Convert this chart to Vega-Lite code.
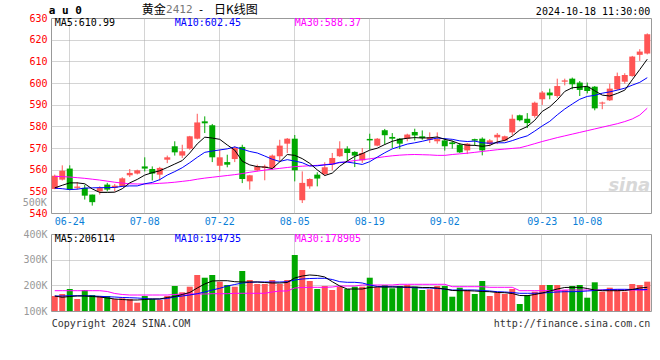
{
  "$schema": "https://vega.github.io/schema/vega-lite/v6.json",
  "background": "white",
  "padding": {"left": 22, "top": 3, "right": 5, "bottom": 5},
  "config": {
    "view": {"stroke": "#999999", "strokeWidth": 1},
    "font": "DejaVu Sans Mono",
    "axis": {"labelFont": "DejaVu Sans Mono", "labelFontSize": 10, "ticks": false, "domain": false, "title": null, "gridColor": "#a8a8a8", "gridDash": [1, 1], "gridWidth": 1, "labelOverlap": false, "labelBound": false}
  },
  "datasets": {
    "k": [
      {"d":"06-20","o":551.1,"h":557.7,"l":551.0,"c":557.2,"v":158400,"m5":551.6,"m10":551.5,"m30":556.9,"vm5":158400,"vm10":158400,"vm30":179100},
      {"d":"06-21","o":555.4,"h":562.0,"l":555.0,"c":559.5,"v":166200,"m5":552.8,"m10":551.2,"m30":556.8,"vm5":153400,"vm10":158400,"vm30":179100},
      {"d":"06-24","o":560.5,"h":562.0,"l":550.5,"c":550.8,"v":185700,"m5":553.9,"m10":550.8,"m30":556.6,"vm5":156500,"vm10":159600,"vm30":179100},
      {"d":"06-25","o":551.6,"h":554.3,"l":550.8,"c":552.2,"v":146800,"m5":553.9,"m10":551.0,"m30":556.3,"vm5":158400,"vm10":159600,"vm30":179100},
      {"d":"06-26","o":551.6,"h":553.0,"l":546.2,"c":548.0,"v":181800,"m5":553.5,"m10":551.5,"m30":556.0,"vm5":158400,"vm10":159600,"vm30":179100},
      {"d":"06-27","o":548.5,"h":548.5,"l":543.4,"c":545.0,"v":162300,"m5":551.1,"m10":551.6,"m30":555.6,"vm5":156500,"vm10":158400,"vm30":179100},
      {"d":"06-28","o":550.0,"h":552.3,"l":548.5,"c":551.5,"v":158400,"m5":549.5,"m10":551.7,"m30":555.2,"vm5":154500,"vm10":157300,"vm30":179100},
      {"d":"07-01","o":553.1,"h":553.9,"l":550.0,"c":550.8,"v":158400,"m5":549.5,"m10":551.7,"m30":554.7,"vm5":150600,"vm10":155700,"vm30":176000},
      {"d":"07-02","o":551.6,"h":553.4,"l":550.0,"c":552.6,"v":146800,"m5":549.6,"m10":551.8,"m30":554.2,"vm5":146800,"vm10":154500,"vm30":168200},
      {"d":"07-03","o":552.3,"h":556.5,"l":552.0,"c":556.0,"v":149500,"m5":551.2,"m10":552.3,"m30":553.8,"vm5":144800,"vm10":152600,"vm30":164300},
      {"d":"07-04","o":557.4,"h":560.3,"l":556.6,"c":558.5,"v":146800,"m5":553.9,"m10":552.5,"m30":553.5,"vm5":142900,"vm10":151800,"vm30":162300},
      {"d":"07-05","o":558.2,"h":560.0,"l":557.8,"c":559.7,"v":132300,"m5":555.5,"m10":552.5,"m30":553.4,"vm5":142900,"vm10":150600,"vm30":162300},
      {"d":"07-08","o":561.5,"h":565.7,"l":559.2,"c":560.5,"v":158400,"m5":557.5,"m10":553.5,"m30":553.4,"vm5":144800,"vm10":148700,"vm30":162300},
      {"d":"07-09","o":560.3,"h":561.5,"l":555.0,"c":558.2,"v":146800,"m5":558.6,"m10":554.1,"m30":553.5,"vm5":146800,"vm10":146800,"vm30":162300},
      {"d":"07-10","o":557.7,"h":561.3,"l":555.0,"c":560.8,"v":142900,"m5":559.5,"m10":555.4,"m30":553.7,"vm5":146800,"vm10":146800,"vm30":162300},
      {"d":"07-11","o":564.6,"h":566.5,"l":563.0,"c":565.7,"v":158400,"m5":561.0,"m10":557.5,"m30":553.9,"vm5":152600,"vm10":148700,"vm30":162300},
      {"d":"07-12","o":570.8,"h":573.1,"l":566.5,"c":568.0,"v":197400,"m5":562.6,"m10":559.1,"m30":554.2,"vm5":156500,"vm10":154500,"vm30":164300},
      {"d":"07-15","o":566.5,"h":571.5,"l":565.4,"c":568.5,"v":172900,"m5":564.2,"m10":560.9,"m30":554.6,"vm5":164300,"vm10":158400,"vm30":166200},
      {"d":"07-16","o":569.7,"h":575.6,"l":569.2,"c":575.4,"v":194700,"m5":567.7,"m10":563.2,"m30":555.0,"vm5":172100,"vm10":162300,"vm30":166200},
      {"d":"07-17","o":574.3,"h":585.8,"l":574.0,"c":581.8,"v":240300,"m5":571.9,"m10":565.7,"m30":555.6,"vm5":189600,"vm10":167400,"vm30":166200},
      {"d":"07-18","o":582.3,"h":584.6,"l":576.9,"c":581.4,"v":229700,"m5":575.0,"m10":568.0,"m30":556.1,"vm5":205200,"vm10":174000,"vm30":166200},
      {"d":"07-19","o":580.5,"h":581.1,"l":563.5,"c":565.7,"v":240300,"m5":574.6,"m10":568.6,"m30":556.5,"vm5":216900,"vm10":181800,"vm30":167400},
      {"d":"07-22","o":561.8,"h":569.2,"l":559.2,"c":565.7,"v":214200,"m5":574.0,"m10":569.1,"m30":556.9,"vm5":218000,"vm10":188400,"vm30":167400},
      {"d":"07-23","o":563.5,"h":566.9,"l":561.1,"c":562.3,"v":201300,"m5":571.4,"m10":569.6,"m30":557.3,"vm5":218000,"vm10":197400,"vm30":167400},
      {"d":"07-24","o":564.9,"h":570.8,"l":563.5,"c":570.0,"v":194700,"m5":569.0,"m10":570.5,"m30":557.7,"vm5":214200,"vm10":203200,"vm30":169000},
      {"d":"07-25","o":570.5,"h":571.5,"l":553.8,"c":555.7,"v":255800,"m5":563.9,"m10":569.5,"m30":558.2,"vm5":213000,"vm10":209100,"vm30":169000},
      {"d":"07-26","o":554.6,"h":557.6,"l":550.8,"c":557.4,"v":220800,"m5":562.2,"m10":568.4,"m30":558.8,"vm5":213000,"vm10":211800,"vm30":169000},
      {"d":"07-29","o":559.7,"h":562.3,"l":559.2,"c":561.5,"v":205200,"m5":561.4,"m10":567.7,"m30":559.3,"vm5":213000,"vm10":213000,"vm30":169000},
      {"d":"07-30","o":560.8,"h":562.3,"l":555.1,"c":561.5,"v":205200,"m5":561.2,"m10":566.3,"m30":559.8,"vm5":211000,"vm10":213000,"vm30":169000},
      {"d":"07-31","o":560.8,"h":567.0,"l":560.0,"c":566.5,"v":220800,"m5":560.5,"m10":564.8,"m30":560.2,"vm5":209100,"vm10":213000,"vm30":174000},
      {"d":"08-01","o":566.2,"h":573.8,"l":563.8,"c":571.1,"v":205200,"m5":563.6,"m10":563.8,"m30":560.6,"vm5":209100,"vm10":213000,"vm30":177900},
      {"d":"08-02","o":572.0,"h":574.6,"l":567.7,"c":574.3,"v":220800,"m5":567.0,"m10":564.6,"m30":561.0,"vm5":211000,"vm10":214200,"vm30":177900},
      {"d":"08-05","o":574.3,"h":576.0,"l":554.6,"c":559.7,"v":318200,"m5":566.6,"m10":564.0,"m30":561.4,"vm5":228600,"vm10":220800,"vm30":189600},
      {"d":"08-06","o":545.9,"h":559.2,"l":544.6,"c":553.9,"v":259700,"m5":565.1,"m10":563.2,"m30":561.6,"vm5":236400,"vm10":224700,"vm30":191600},
      {"d":"08-07","o":552.3,"h":556.0,"l":551.2,"c":555.7,"v":216900,"m5":562.9,"m10":561.7,"m30":561.8,"vm5":240300,"vm10":226600,"vm30":192300},
      {"d":"08-08","o":557.7,"h":558.8,"l":552.3,"c":555.9,"v":185700,"m5":559.9,"m10":561.8,"m30":562.0,"vm5":238300,"vm10":227400,"vm30":192300},
      {"d":"08-09","o":558.0,"h":563.4,"l":557.2,"c":561.1,"v":197400,"m5":557.3,"m10":562.2,"m30":562.3,"vm5":232500,"vm10":227400,"vm30":192300},
      {"d":"08-12","o":562.3,"h":567.7,"l":559.7,"c":565.4,"v":181800,"m5":558.4,"m10":562.5,"m30":562.7,"vm5":214200,"vm10":222700,"vm30":193500},
      {"d":"08-13","o":566.2,"h":573.1,"l":565.9,"c":569.7,"v":194700,"m5":561.6,"m10":563.4,"m30":563.2,"vm5":197400,"vm10":214200,"vm30":197400},
      {"d":"08-14","o":569.7,"h":570.8,"l":563.9,"c":567.7,"v":185700,"m5":564.0,"m10":563.5,"m30":563.7,"vm5":185700,"vm10":211800,"vm30":197400},
      {"d":"08-15","o":568.2,"h":568.5,"l":561.2,"c":566.5,"v":194700,"m5":566.1,"m10":563.0,"m30":564.2,"vm5":185700,"vm10":211800,"vm30":197400},
      {"d":"08-16","o":564.3,"h":570.0,"l":563.1,"c":567.7,"v":194700,"m5":567.4,"m10":562.4,"m30":564.6,"vm5":185700,"vm10":209100,"vm30":201300},
      {"d":"08-19","o":574.2,"h":576.6,"l":569.2,"c":573.5,"v":229700,"m5":569.0,"m10":563.7,"m30":565.0,"vm5":191600,"vm10":201300,"vm30":201300},
      {"d":"08-20","o":571.1,"h":574.6,"l":570.8,"c":574.3,"v":192300,"m5":569.9,"m10":565.8,"m30":565.5,"vm5":193500,"vm10":195500,"vm30":201300},
      {"d":"08-21","o":578.2,"h":578.8,"l":571.6,"c":575.9,"v":201300,"m5":571.6,"m10":567.8,"m30":566.0,"vm5":193500,"vm10":194700,"vm30":201300},
      {"d":"08-22","o":575.1,"h":576.9,"l":570.0,"c":574.3,"v":188400,"m5":573.1,"m10":569.6,"m30":566.4,"vm5":193500,"vm10":194700,"vm30":201300},
      {"d":"08-23","o":574.3,"h":574.6,"l":569.5,"c":572.0,"v":197400,"m5":574.0,"m10":570.7,"m30":566.7,"vm5":193500,"vm10":193500,"vm30":204000},
      {"d":"08-26","o":574.3,"h":576.6,"l":573.1,"c":576.2,"v":201300,"m5":574.5,"m10":571.8,"m30":566.9,"vm5":193500,"vm10":191600,"vm30":204000},
      {"d":"08-27","o":577.4,"h":578.9,"l":573.5,"c":575.8,"v":194700,"m5":574.8,"m10":572.4,"m30":567.0,"vm5":193500,"vm10":190800,"vm30":204000},
      {"d":"08-28","o":575.4,"h":578.1,"l":573.8,"c":574.6,"v":181800,"m5":574.6,"m10":573.1,"m30":566.9,"vm5":191600,"vm10":189600,"vm30":204000},
      {"d":"08-29","o":573.8,"h":577.2,"l":572.3,"c":574.9,"v":184500,"m5":574.7,"m10":573.9,"m30":566.8,"vm5":191600,"vm10":189600,"vm30":204000},
      {"d":"08-30","o":573.1,"h":577.2,"l":572.0,"c":574.1,"v":197400,"m5":575.1,"m10":574.6,"m30":566.6,"vm5":189600,"vm10":187700,"vm30":204000},
      {"d":"09-02","o":573.5,"h":574.6,"l":568.8,"c":570.8,"v":197400,"m5":574.0,"m10":574.3,"m30":566.6,"vm5":185700,"vm10":185700,"vm30":204000},
      {"d":"09-03","o":572.6,"h":573.4,"l":569.7,"c":571.8,"v":155700,"m5":573.2,"m10":574.0,"m30":567.0,"vm5":179900,"vm10":181800,"vm30":194700},
      {"d":"09-04","o":571.5,"h":572.3,"l":567.7,"c":568.0,"v":190800,"m5":571.9,"m10":573.3,"m30":567.3,"vm5":179100,"vm10":181800,"vm30":194700},
      {"d":"09-05","o":568.9,"h":572.3,"l":567.2,"c":572.0,"v":181800,"m5":571.3,"m10":573.0,"m30":567.6,"vm5":179100,"vm10":181800,"vm30":194700},
      {"d":"09-06","o":574.1,"h":574.3,"l":571.1,"c":573.4,"v":166200,"m5":571.2,"m10":573.2,"m30":568.0,"vm5":177900,"vm10":181800,"vm30":194700},
      {"d":"09-09","o":574.3,"h":574.9,"l":566.6,"c":568.9,"v":216900,"m5":570.8,"m10":572.4,"m30":568.4,"vm5":176000,"vm10":179900,"vm30":194700},
      {"d":"09-10","o":571.8,"h":574.1,"l":570.8,"c":573.5,"v":158400,"m5":571.2,"m10":572.2,"m30":568.8,"vm5":175200,"vm10":177900,"vm30":192300},
      {"d":"09-11","o":574.9,"h":576.9,"l":571.8,"c":576.1,"v":171300,"m5":572.8,"m10":572.4,"m30":569.2,"vm5":172100,"vm10":175200,"vm30":192300},
      {"d":"09-12","o":573.4,"h":575.7,"l":573.1,"c":575.4,"v":166200,"m5":573.5,"m10":572.4,"m30":569.5,"vm5":171300,"vm10":174000,"vm30":192300},
      {"d":"09-13","o":577.2,"h":585.4,"l":575.8,"c":583.5,"v":185700,"m5":575.5,"m10":573.4,"m30":569.8,"vm5":168200,"vm10":172100,"vm30":192300},
      {"d":"09-18","o":585.1,"h":585.4,"l":582.3,"c":582.8,"v":127300,"m5":578.3,"m10":574.6,"m30":570.1,"vm5":160400,"vm10":169000,"vm30":179100},
      {"d":"09-19","o":583.5,"h":586.1,"l":579.2,"c":581.5,"v":162300,"m5":579.9,"m10":575.6,"m30":571.0,"vm5":159600,"vm10":169000,"vm30":179100},
      {"d":"09-20","o":584.8,"h":591.4,"l":584.0,"c":590.9,"v":175200,"m5":582.8,"m10":577.8,"m30":572.0,"vm5":164300,"vm10":169000,"vm30":179100},
      {"d":"09-23","o":592.5,"h":596.3,"l":589.9,"c":595.6,"v":201300,"m5":586.9,"m10":580.2,"m30":573.0,"vm5":170100,"vm10":170100,"vm30":179100},
      {"d":"09-24","o":595.6,"h":597.4,"l":592.5,"c":594.3,"v":201300,"m5":589.0,"m10":582.3,"m30":573.9,"vm5":177900,"vm10":172100,"vm30":179100},
      {"d":"09-25","o":594.0,"h":602.0,"l":593.2,"c":598.6,"v":201300,"m5":592.2,"m10":585.3,"m30":574.8,"vm5":185700,"vm10":174000,"vm30":179100},
      {"d":"09-26","o":600.6,"h":602.0,"l":598.9,"c":601.2,"v":181800,"m5":596.1,"m10":588.0,"m30":575.6,"vm5":191600,"vm10":175200,"vm30":181800},
      {"d":"09-27","o":602.0,"h":602.5,"l":597.1,"c":599.4,"v":197400,"m5":597.8,"m10":590.3,"m30":576.4,"vm5":192300,"vm10":175200,"vm30":181800},
      {"d":"09-30","o":600.2,"h":600.9,"l":594.0,"c":596.8,"v":201300,"m5":598.1,"m10":592.5,"m30":577.2,"vm5":192300,"vm10":176000,"vm30":181800},
      {"d":"10-08","o":598.3,"h":600.2,"l":595.2,"c":596.3,"v":151800,"m5":598.5,"m10":593.8,"m30":578.0,"vm5":187700,"vm10":177900,"vm30":181800},
      {"d":"10-09","o":598.3,"h":598.6,"l":587.4,"c":588.3,"v":211800,"m5":596.4,"m10":594.3,"m30":578.8,"vm5":181800,"vm10":179900,"vm30":181800},
      {"d":"10-10","o":590.5,"h":591.4,"l":587.9,"c":591.0,"v":175200,"m5":594.4,"m10":595.3,"m30":579.6,"vm5":179100,"vm10":181800,"vm30":181800},
      {"d":"10-11","o":592.0,"h":599.7,"l":591.7,"c":597.4,"v":190800,"m5":594.0,"m10":595.9,"m30":580.4,"vm5":179100,"vm10":183800,"vm30":181800},
      {"d":"10-14","o":597.1,"h":604.8,"l":596.8,"c":603.2,"v":184500,"m5":595.2,"m10":596.7,"m30":581.2,"vm5":179100,"vm10":184500,"vm30":181800},
      {"d":"10-15","o":600.6,"h":604.5,"l":599.7,"c":603.7,"v":175200,"m5":596.7,"m10":597.6,"m30":582.2,"vm5":179900,"vm10":184500,"vm30":181800},
      {"d":"10-16","o":603.2,"h":612.5,"l":602.9,"c":612.2,"v":205200,"m5":601.5,"m10":599.0,"m30":583.4,"vm5":183800,"vm10":183800,"vm30":181800},
      {"d":"10-17","o":613.0,"h":615.6,"l":610.2,"c":614.5,"v":201300,"m5":606.2,"m10":600.3,"m30":585.2,"vm5":189600,"vm10":183000,"vm30":181800},
      {"d":"10-18","o":613.6,"h":622.9,"l":613.2,"c":622.5,"v":214200,"m5":610.99,"m10":602.45,"m30":588.37,"vm5":192300,"vm10":183800,"vm30":181800}
    ]
  },
  "spacing": 21,
  "bounds": "flush",
  "vconcat": [
    {
      "width": 600,
      "height": 195,
      "data": {"name": "k"},
      "layer": [
        {
          "mark": {"type": "rule", "strokeWidth": 1},
          "encoding": {
            "x": {"field": "d", "type": "ordinal", "scale": {"paddingInner": 0.2, "paddingOuter": 0.1},
              "axis": {"values": ["06-24","07-08","07-22","08-05","08-19","09-02","09-23","10-08"], "bandPosition": 0.43, "grid": true, "labelAngle": 0, "labelColor": "#0b7fd8", "labelPadding": 3, "labelOverlap": false}},
            "y": {"field": "l", "type": "quantitative", "scale": {"domain": [540, 630], "nice": false, "zero": false},
              "axis": {"values": [540,550,560,570,580,590,600,610,620,630], "tickCount": 20, "grid": true, "labelColor": "#ff0000", "labelPadding": 4, "labelOverlap": false, "labelFlush": false,
                "gridOpacity": {"condition": {"test": "datum.value == 540 || datum.value == 630", "value": 0}, "value": 1}}},
            "y2": {"field": "h"},
            "color": {"condition": {"test": "datum.c >= datum.o", "value": "#ff5555"}, "value": "#00a800"}
          }
        },
        {
          "mark": {"type": "bar"},
          "encoding": {
            "x": {"field": "d", "type": "ordinal"},
            "y": {"field": "o", "type": "quantitative"},
            "y2": {"field": "c"},
            "color": {"condition": {"test": "datum.c >= datum.o", "value": "#ff5555"}, "value": "#00a800"}
          }
        },
        {"mark": {"type": "line", "color": "#ff00ff", "strokeWidth": 1}, "encoding": {"x": {"field": "d", "type": "ordinal"}, "y": {"field": "m30", "type": "quantitative"}}},
        {"mark": {"type": "line", "color": "#0000ff", "strokeWidth": 1}, "encoding": {"x": {"field": "d", "type": "ordinal"}, "y": {"field": "m10", "type": "quantitative"}}},
        {"mark": {"type": "line", "color": "#000000", "strokeWidth": 1}, "encoding": {"x": {"field": "d", "type": "ordinal"}, "y": {"field": "m5", "type": "quantitative"}}},
        {"data": {"values": [{}]}, "mark": {"type": "text", "text": "MA5:610.99", "align": "left", "baseline": "middle", "fontSize": 10, "color": "#000000"},
          "encoding": {"x": {"datum": "06-20"}, "y": {"datum": 627.6}}},
        {"data": {"values": [{}]}, "mark": {"type": "text", "text": "MA10:602.45", "align": "left", "baseline": "middle", "fontSize": 10, "color": "#0000ff"},
          "encoding": {"x": {"datum": "07-12"}, "y": {"datum": 627.6}}},
        {"data": {"values": [{}]}, "mark": {"type": "text", "text": "MA30:588.37", "align": "left", "baseline": "middle", "fontSize": 10, "color": "#ff00ff"},
          "encoding": {"x": {"datum": "08-05"}, "y": {"datum": 627.6}}},
        {"data": {"values": [{}]}, "mark": {"type": "text", "text": "a u 0", "align": "left", "baseline": "middle", "fontSize": 11, "fontWeight": "bold", "color": "#000000", "dx": -3},
          "encoding": {"x": {"datum": "06-20", "bandPosition": 0}, "y": {"datum": 633.4}}},
        {"data": {"values": [{}]}, "mark": {"type": "text", "text": "黄金", "align": "left", "baseline": "middle", "fontSize": 12, "font": "Noto Sans CJK SC", "color": "#000000"},
          "encoding": {"x": {"datum": "07-08", "bandPosition": 0}, "y": {"datum": 633.6}}},
        {"data": {"values": [{}]}, "mark": {"type": "text", "text": "2412", "align": "left", "baseline": "middle", "fontSize": 11, "color": "#777777"},
          "encoding": {"x": {"datum": "07-11", "bandPosition": 0.3}, "y": {"datum": 633.6}}},
        {"data": {"values": [{}]}, "mark": {"type": "text", "text": "-", "align": "left", "baseline": "middle", "fontSize": 11, "color": "#000000"},
          "encoding": {"x": {"datum": "07-17", "bandPosition": 0.6}, "y": {"datum": 633.6}}},
        {"data": {"values": [{}]}, "mark": {"type": "text", "text": "日K线图", "align": "left", "baseline": "middle", "fontSize": 12, "font": "Noto Sans CJK SC", "color": "#000000"},
          "encoding": {"x": {"datum": "07-19", "bandPosition": 0.8}, "y": {"datum": 633.6}}},
        {"data": {"values": [{}]}, "mark": {"type": "text", "text": "2024-10-18 11:30:00", "align": "right", "baseline": "middle", "fontSize": 10, "color": "#000000"},
          "encoding": {"x": {"datum": "10-18", "bandPosition": 1}, "y": {"datum": 633.0}}},
        {"data": {"values": [{}]}, "mark": {"type": "text", "text": "sina", "align": "right", "baseline": "middle", "fontSize": 18, "font": "DejaVu Sans", "fontStyle": "italic", "fontWeight": "bold", "color": "#d8d8d8"},
          "encoding": {"x": {"datum": "10-18", "bandPosition": 1}, "y": {"datum": 552.6}}}
      ]
    },
    {
      "width": 600,
      "height": 77,
      "data": {"name": "k"},
      "layer": [
        {
          "mark": {"type": "bar"},
          "encoding": {
            "x": {"field": "d", "type": "ordinal", "scale": {"paddingInner": 0.2, "paddingOuter": 0.1},
              "axis": {"values": ["06-24","07-08","07-22","08-05","08-19","09-02","09-23","10-08"], "bandPosition": 0.43, "grid": true, "labels": false}},
            "y": {"field": "v", "type": "quantitative", "scale": {"domain": [100000, 400000], "nice": false, "zero": false},
              "axis": {"values": [100000, 200000, 300000, 400000], "tickCount": 20, "labelExpr": "format(datum.value / 1000, 'd') + 'K'", "grid": true, "labelColor": "#999999", "labelPadding": 4, "labelOverlap": false, "labelFlush": false,
                "gridOpacity": {"condition": {"test": "datum.value == 200000 || datum.value == 300000", "value": 1}, "value": 0}}},
            "y2": {"datum": 100000},
            "color": {"condition": {"test": "datum.c >= datum.o", "value": "#ff5555"}, "value": "#00a800"}
          }
        },
        {"mark": {"type": "line", "color": "#ff00ff", "strokeWidth": 1}, "encoding": {"x": {"field": "d", "type": "ordinal"}, "y": {"field": "vm30", "type": "quantitative"}}},
        {"mark": {"type": "line", "color": "#0000ff", "strokeWidth": 1}, "encoding": {"x": {"field": "d", "type": "ordinal"}, "y": {"field": "vm10", "type": "quantitative"}}},
        {"mark": {"type": "line", "color": "#000000", "strokeWidth": 1}, "encoding": {"x": {"field": "d", "type": "ordinal"}, "y": {"field": "vm5", "type": "quantitative"}}},
        {"data": {"values": [{}]}, "mark": {"type": "text", "text": "500K", "align": "right", "baseline": "middle", "fontSize": 10, "color": "#999999", "dx": -5},
          "encoding": {"x": {"datum": "06-20", "bandPosition": 0}, "y": {"datum": 521000}}},
        {"data": {"values": [{}]}, "mark": {"type": "text", "text": "MA5:206114", "align": "left", "baseline": "middle", "fontSize": 10, "color": "#000000"},
          "encoding": {"x": {"datum": "06-20"}, "y": {"datum": 380000}}},
        {"data": {"values": [{}]}, "mark": {"type": "text", "text": "MA10:194735", "align": "left", "baseline": "middle", "fontSize": 10, "color": "#0000ff"},
          "encoding": {"x": {"datum": "07-12"}, "y": {"datum": 380000}}},
        {"data": {"values": [{}]}, "mark": {"type": "text", "text": "MA30:178905", "align": "left", "baseline": "middle", "fontSize": 10, "color": "#ff00ff"},
          "encoding": {"x": {"datum": "08-05"}, "y": {"datum": 380000}}},
        {"data": {"values": [{}]}, "mark": {"type": "text", "text": "Copyright 2024 SINA.COM", "align": "left", "baseline": "middle", "fontSize": 10, "color": "#333333"},
          "encoding": {"x": {"datum": "06-20", "bandPosition": 0}, "y": {"datum": 49000}}},
        {"data": {"values": [{}]}, "mark": {"type": "text", "text": "http://finance.sina.com.cn", "align": "right", "baseline": "middle", "fontSize": 10, "color": "#333333"},
          "encoding": {"x": {"datum": "10-18", "bandPosition": 1}, "y": {"datum": 49000}}}
      ]
    }
  ]
}
